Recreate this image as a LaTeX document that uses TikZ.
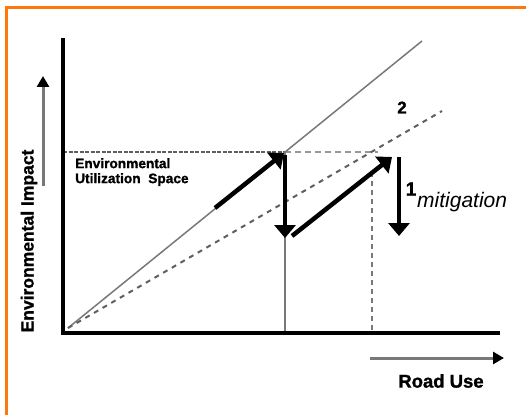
\documentclass[tikz,border=0pt]{standalone}
\usepackage{fontspec}
\setmainfont{Liberation Sans}[BoldFeatures={FakeBold=1.2}]
\usetikzlibrary{arrows.meta}
\definecolor{frameorange}{RGB}{255,118,10}
\definecolor{linegray}{RGB}{120,120,120}
\definecolor{dashgray}{RGB}{95,95,95}
\definecolor{lightdash}{RGB}{150,150,150}
\tikzset{
  axisline/.style={line width=4pt, black},
  thickarrow/.style={line width=4.5pt, black, -{Triangle[width=21pt,length=13pt]}},
  helperarrow/.style={line width=3pt, linegray, -{Triangle[width=12pt,length=11pt,color=black,fill=black]}},
  lbl/.style={inner sep=0pt, font=\bfseries}
}
\begin{document}
\begin{tikzpicture}[x=1pt,y=-1pt]
\useasboundingbox (0,0) rectangle (526,414);
% frame
\draw[frameorange, line width=2.2pt] (6.5,420) -- (6.5,7.5) -- (530,7.5);
% coordinates
\coordinate (O) at (68,328);
\coordinate (S) at (422,41);
\coordinate (D) at (442,111);
\coordinate (A) at (285,152);
\coordinate (L) at (63,152);
\coordinate (R) at (378,152);
\coordinate (Abot) at (285,331);
\coordinate (Btop) at (372,172);
\coordinate (Bbot) at (372,331);
% guide lines
\draw[dashgray, line width=1.3pt, dash pattern=on 4pt off 1.5pt] (L) -- (A);
\draw[lightdash, line width=2pt, dash pattern=on 6pt off 4pt] (A) -- (R);
\draw[linegray, line width=1.6pt] (A) -- (Abot);
\draw[lightdash!80!black, line width=2pt, dash pattern=on 5pt off 4pt] (Btop) -- (Bbot);
\draw[linegray, line width=1.5pt] (O) -- (S);
\draw[dashgray, line width=2pt, dash pattern=on 5pt off 5pt] (O) -- (D);
% thick arrows
\coordinate (a1s) at (215,208);
\coordinate (a1e) at (284,153);
\coordinate (a2s) at (285,155);
\coordinate (a2e) at (285,238);
\coordinate (a3s) at (292,236);
\coordinate (a3e) at (392,157);
\coordinate (a4s) at (399,157);
\coordinate (a4e) at (399,236);
\draw[thickarrow] (a1s) -- (a1e);
\draw[thickarrow] (a2s) -- (a2e);
\draw[thickarrow] (a3s) -- (a3e);
\draw[thickarrow] (a4s) -- (a4e);
% axes
\coordinate (Ytop) at (63,38);
\coordinate (Ybot) at (63,335);
\coordinate (Xl) at (61,333);
\coordinate (Xr) at (500,333);
\draw[axisline] (Ytop) -- (Ybot);
\draw[axisline] (Xl) -- (Xr);
% direction arrows
\coordinate (ya1) at (43,186);
\coordinate (ya2) at (43,76);
\coordinate (xa1) at (370,358);
\coordinate (xa2) at (504,358);
\draw[helperarrow] (ya1) -- (ya2);
\draw[helperarrow] (xa1) -- (xa2);
% labels
\node[lbl, rotate=90, font=\bfseries\fontsize{17.5}{18}\selectfont] (ylab) at (29,241) {Environmental Impact};
\node[lbl, font=\bfseries\fontsize{18.5}{20}\selectfont] (xlab) at (441,381) {Road Use};
\node[lbl, anchor=north west, align=left, font=\bfseries\fontsize{13.7}{15}\selectfont] (eus) at (75,158) {Environmental\\Utilization\ \ Space};
\node[lbl, font=\bfseries\fontsize{17}{17}\selectfont] (two) at (402,107.5) {2};
\node[lbl, anchor=base, font=\bfseries\fontsize{19}{19}\selectfont] (one) at (411,195.5) {1};
\node[inner sep=0pt, anchor=base west, font=\itshape\fontsize{21}{21}\selectfont] (mit) at (417,207) {mitigation};
\end{tikzpicture}
\end{document}
